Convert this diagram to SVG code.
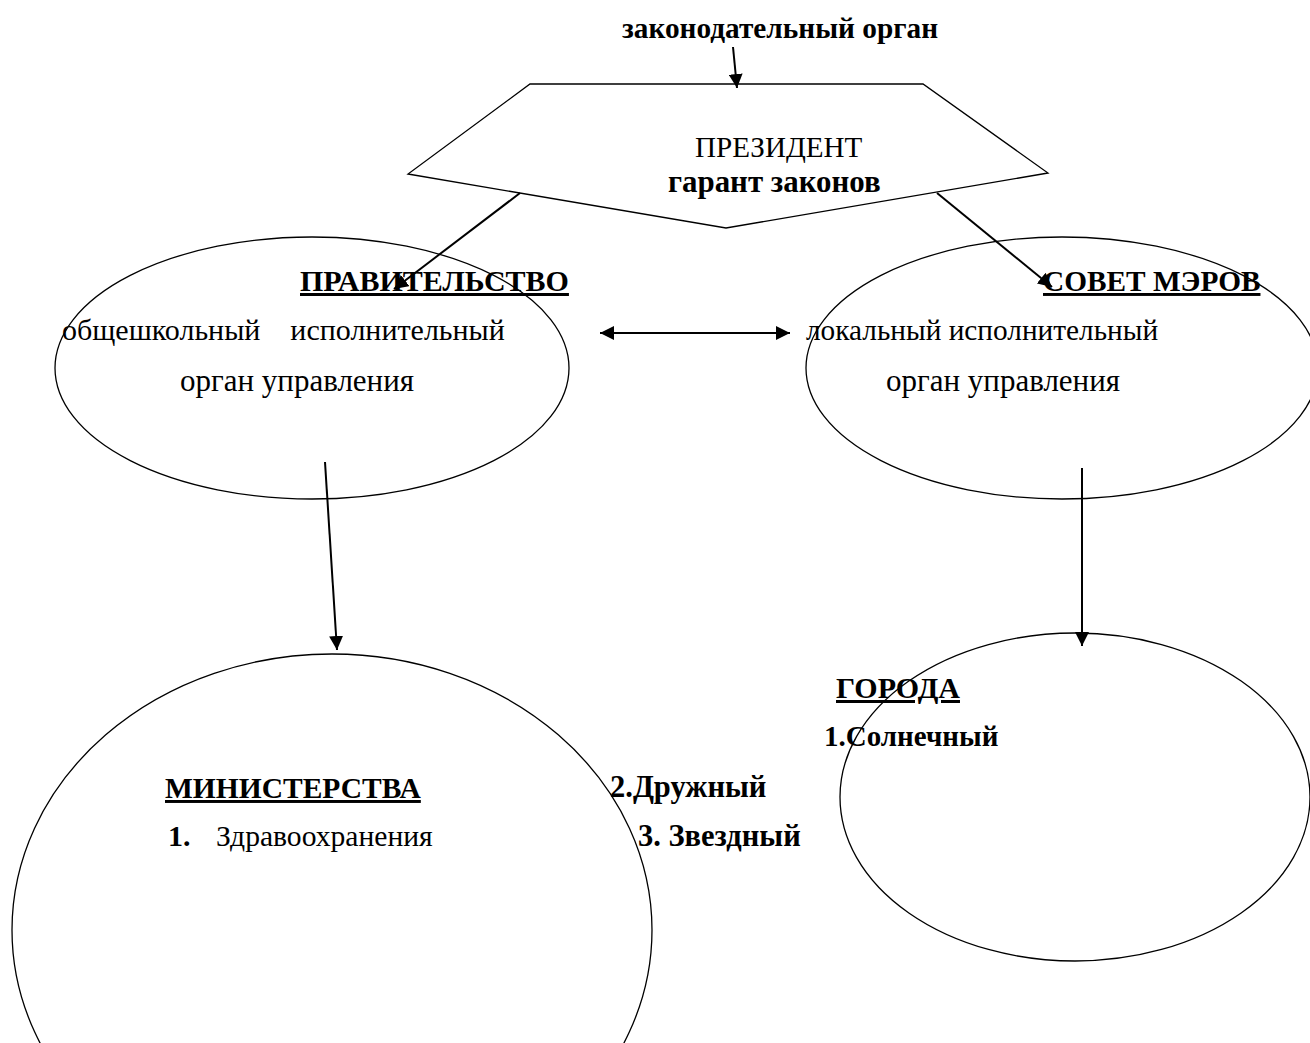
<svg xmlns="http://www.w3.org/2000/svg" width="1310" height="1043" viewBox="0 0 1310 1043">
<style>
text{font-family:"Liberation Serif","Times New Roman",serif;font-size:30px;fill:#000;white-space:pre}
.b{font-weight:bold}
.u{text-decoration:underline}
.shape{fill:none;stroke:#000;stroke-width:1.3}
.ln{stroke:#000;stroke-width:2;fill:none}
</style>
<defs>
<marker id="ah" viewBox="0 0 10 10" refX="10" refY="5" markerWidth="7" markerHeight="7" orient="auto" markerUnits="strokeWidth">
<path d="M0,0 L10,5 L0,10 Z" fill="#000"/>
</marker>
<marker id="as" viewBox="0 0 10 10" refX="0" refY="5" markerWidth="7" markerHeight="7" orient="auto" markerUnits="strokeWidth">
<path d="M10,0 L0,5 L10,10 Z" fill="#000"/>
</marker>
</defs>
<rect width="1310" height="1043" fill="#fff"/>
<g id="legislature">
<text class="b" x="622" y="38" style="font-size:29.3px">законодательный орган</text>
</g>
<g id="president">
<polygon class="shape" points="530,84 923,84 1048,173 726,228 408,174"/>
<text x="695" y="157" style="font-size:29.1px">ПРЕЗИДЕНТ</text>
<text class="b" x="668" y="192" style="font-size:30.9px">гарант законов</text>
</g>
<g id="government">
<ellipse class="shape" cx="312" cy="368" rx="257" ry="131"/>
<text class="b u" x="300" y="291">ПРАВИТЕЛЬСТВО</text>
<text x="62" y="340">общешкольный    исполнительный</text>
<text x="180" y="391" style="font-size:31px">орган управления</text>
</g>
<g id="mayors">
<ellipse class="shape" cx="1062" cy="368" rx="256" ry="131"/>
<text class="b u" x="1043" y="291" style="font-size:29.3px">СОВЕТ МЭРОВ</text>
<text x="806" y="340" style="font-size:29.3px">локальный исполнительный</text>
<text x="886" y="391" style="font-size:31px">орган управления</text>
</g>
<g id="ministries">
<ellipse class="shape" cx="332" cy="930" rx="320" ry="276"/>
<text class="b u" x="165" y="798" style="font-size:29.5px">МИНИСТЕРСТВА</text>
<text class="b" x="168" y="846">1.</text>
<text x="216" y="846" style="font-size:29.6px">Здравоохранения</text>
<text class="b" x="610" y="797" style="font-size:30.5px">2.Дружный</text>
<text class="b" x="638" y="846" style="font-size:30.5px">3. Звездный</text>
</g>
<g id="cities">
<ellipse class="shape" cx="1075" cy="797" rx="235" ry="164"/>
<text class="b u" x="836" y="698">ГОРОДА</text>
<text class="b" x="824" y="746" style="font-size:29px">1.Солнечный</text>
</g>
<g id="connectors">
<line class="ln" x1="733" y1="47" x2="737" y2="88" marker-end="url(#ah)"/>
<line class="ln" x1="520" y1="193" x2="394" y2="289" marker-end="url(#ah)"/>
<line class="ln" x1="937" y1="193" x2="1052" y2="287" marker-end="url(#ah)"/>
<line class="ln" x1="600" y1="333" x2="790" y2="333" marker-start="url(#as)" marker-end="url(#ah)"/>
<line class="ln" x1="325" y1="462" x2="337" y2="650" marker-end="url(#ah)"/>
<line class="ln" x1="1082" y1="468" x2="1082" y2="646" marker-end="url(#ah)"/>
</g>
</svg>
